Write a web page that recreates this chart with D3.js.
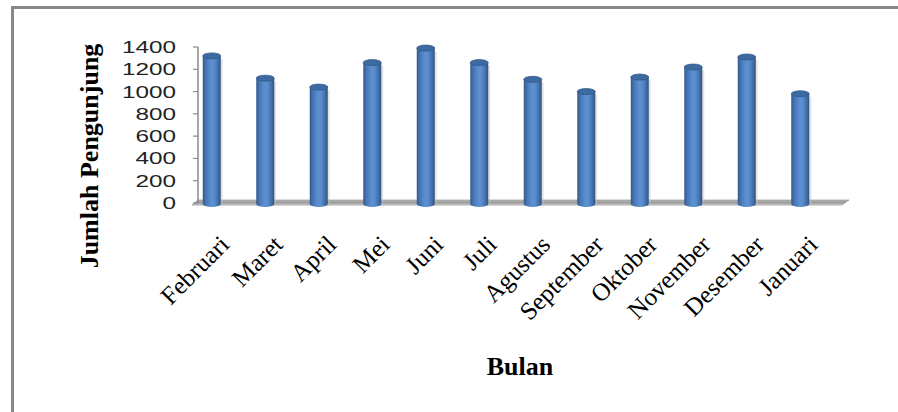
<!DOCTYPE html>
<html>
<head>
<meta charset="utf-8">
<script src="https://cdn.jsdelivr.net/npm/d3@7"></script>
<style>
  html, body { margin: 0; padding: 0; background: #fff; }
  svg { display: block; }
</style>
</head>
<body>
<svg id="chart" width="898" height="412"></svg>
<script>
// Monthly visitor counts
const months = ["Februari", "Maret", "April", "Mei", "Juni", "Juli",
                "Agustus", "September", "Oktober", "November", "Desember", "Januari"];
const visitors = [1320, 1120, 1040, 1260, 1390, 1260, 1110, 1000, 1130, 1220, 1310, 980];
const yTicks = [0, 200, 400, 600, 800, 1000, 1200, 1400];
const yTitle = "Jumlah Pengunjung";
const xTitle = "Bulan";

const svg = d3.select("#chart");

const x = d3.scaleBand().domain(months).range([185, 827]);
const y = d3.scaleLinear().domain([0, 1400]).range([203, 47]);

const defs = svg.append("defs");
const grad = defs.append("linearGradient").attr("id", "cyl").attr("x1", 0).attr("x2", 1).attr("y1", 0).attr("y2", 0);
[[0, "#35598a"], [0.18, "#4676b4"], [0.45, "#5b8fd2"], [0.62, "#5a8ed0"], [0.85, "#426fa8"], [1, "#30527f"]]
  .forEach(([o, c]) => grad.append("stop").attr("offset", o).attr("stop-color", c));
const floorGrad = defs.append("linearGradient").attr("id", "floor").attr("x1", 0).attr("x2", 0).attr("y1", 0).attr("y2", 1);
[[0, "#bdbdbd"], [0.5, "#9a9a9a"], [1, "#d0d0d0"]]
  .forEach(([o, c]) => floorGrad.append("stop").attr("offset", o).attr("stop-color", c));

// Frame around the chart area
svg.append("line").attr("x1", 12).attr("x2", 898).attr("y1", 7.5).attr("y2", 7.5)
  .attr("stroke", "#878787").attr("stroke-width", 3);
svg.append("line").attr("x1", 12.5).attr("x2", 12.5).attr("y1", 6).attr("y2", 412)
  .attr("stroke", "#878787").attr("stroke-width", 3);

// 3D floor slab
const [r0, r1] = x.range();
const fy = y(0);
svg.append("path")
  .attr("d", `M${r0 + 13},${fy - 3} L${r1 + 22},${fy - 3} L${r1 + 15},${fy + 2} L${r0 + 7},${fy + 2} Z`)
  .attr("fill", "url(#floor)").attr("stroke", "#8c8c8c").attr("stroke-width", 0.6);

// Value axis with outside ticks
const axisX = 198;
svg.append("line").attr("x1", axisX).attr("x2", axisX).attr("y1", y(1400)).attr("y2", y(0))
  .attr("stroke", "#8a8a8a").attr("stroke-width", 1.5);
svg.selectAll(".ytick").data(yTicks).join("line")
  .attr("x1", axisX - 5).attr("x2", axisX).attr("y1", d => y(d)).attr("y2", d => y(d))
  .attr("stroke", "#8a8a8a").attr("stroke-width", 1.2);
svg.selectAll(".ylab").data(yTicks).join("text")
  .attr("transform", d => `translate(176,${y(d) + 6}) scale(1.43,1)`)
  .attr("text-anchor", "end")
  .attr("font-family", "'Liberation Sans', Arial, sans-serif")
  .attr("font-size", 17)
  .attr("fill", "#222")
  .text(d => d);

// Cylinder bars
const bw = 18, eh = 3;
const bars = svg.append("g");
const cx = d => x(d) + x.bandwidth() / 2;
// soft shadow behind each cylinder
bars.selectAll(".shadow").data(months).join("rect")
  .attr("x", d => cx(d) - bw / 2 + 2).attr("width", bw)
  .attr("y", (d, i) => y(visitors[i]) + 3).attr("height", (d, i) => y(0) - y(visitors[i]))
  .attr("fill", "#c4c4c4").attr("opacity", 0.45);
bars.selectAll(".body").data(months).join("path")
  .attr("d", (d, i) => {
    const c = cx(d), t = y(visitors[i]), b = y(0) + 1;
    return `M${c - bw / 2},${t} L${c - bw / 2},${b} A${bw / 2},${eh} 0 0 0 ${c + bw / 2},${b} L${c + bw / 2},${t} Z`;
  })
  .attr("fill", "url(#cyl)");
bars.selectAll(".top").data(months).join("ellipse")
  .attr("cx", d => cx(d)).attr("cy", (d, i) => y(visitors[i]))
  .attr("rx", bw / 2).attr("ry", eh)
  .attr("fill", "#3e6aa2").attr("stroke", "#345b8c").attr("stroke-width", 0.8);

// Category labels, slanted at 45 degrees
svg.selectAll(".xlab").data(months).join("text")
  .attr("transform", d => `translate(${cx(d) + 19},246) rotate(-45)`)
  .attr("text-anchor", "end")
  .attr("font-family", "'Liberation Serif', 'Times New Roman', serif")
  .attr("font-size", 25)
  .attr("fill", "#000")
  .text(d => d);

// Axis titles
svg.append("text")
  .attr("transform", "translate(98,156) rotate(-90)")
  .attr("text-anchor", "middle")
  .attr("font-family", "'Liberation Serif', 'Times New Roman', serif")
  .attr("font-weight", "bold")
  .attr("font-size", 26)
  .attr("fill", "#000")
  .text(yTitle);
svg.append("text")
  .attr("x", 520).attr("y", 375)
  .attr("text-anchor", "middle")
  .attr("font-family", "'Liberation Serif', 'Times New Roman', serif")
  .attr("font-weight", "bold")
  .attr("font-size", 26)
  .attr("fill", "#000")
  .text(xTitle);
</script>
</body>
</html>
